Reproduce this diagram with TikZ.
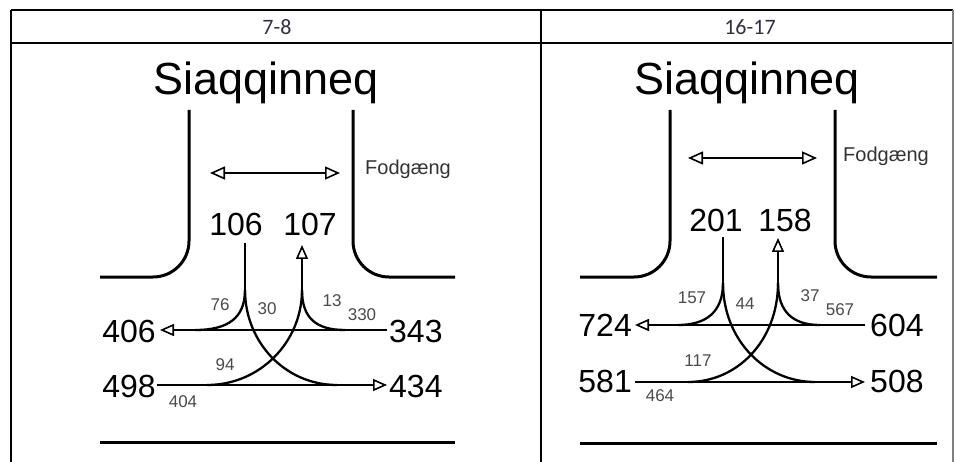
\documentclass[tikz,border=0pt]{standalone}
\usepackage{fontspec}
\setmainfont{Liberation Sans}
\newfontfamily\hdrfont{Carlito}
\usetikzlibrary{arrows.meta}

\definecolor{hdrtext}{HTML}{303040}
\definecolor{smalltext}{HTML}{4A4A4A}
\newcommand{\setfs}[1]{\fontsize{#1}{#1}\selectfont}

\begin{document}
\begin{tikzpicture}[x=1pt, y=-1pt, inner sep=0pt,
  tbl/.style={line width=2.8pt},
  road/.style={line width=3pt, rounded corners=36pt},
  flow/.style={line width=2.3pt},
  openhead/.style={-{Triangle[open, length=14pt, width=12pt, line width=1.6pt]}},
  pedarrow/.style={line width=2.3pt, {Triangle[open, length=15pt, width=13pt, line width=1.6pt]}-{Triangle[open, length=15pt, width=13pt, line width=1.6pt]}},
  title/.style={font=\setfs{45}, anchor=base},
  hdr/.style={font=\hdrfont\setfs{22}, text=hdrtext},
  big/.style={font=\setfs{32}},
  small/.style={font=\setfs{17}, text=smalltext},
  walk/.style={font=\setfs{20}, text=black!80, anchor=base west}]

  \useasboundingbox (0,0) rectangle (955,462);

  % Table frame
  \draw[tbl] (11,10) -- (953,10);
  \draw[tbl] (11,43) -- (953,43);
  \draw[tbl] (11,10) -- (11,470);
  \draw[tbl] (541,10) -- (541,470);
  \draw[line width=1.2pt, black!50] (953,10) -- (953,470);
  \node[hdr] (hdrA) at (277,27) {7-8};
  \node[hdr] (hdrB) at (750,27) {16-17};

  % ---------------- 7-8 ----------------
  \node[title] (titleA) at (266,95) {Siaqqinneq};
  % curbs
  \draw[road] (189,110) -- (189,277) -- (100,277);
  \draw[road] (353,110) -- (353,277) -- (455,277);
  \draw[line width=3pt] (100,442) -- (455,442);
  % pedestrians
  \coordinate (pedAl) at (210,173);
  \coordinate (pedAr) at (340,173);
  \draw[pedarrow] (pedAl) -- (pedAr);
  \node[walk] (walkA) at (365,175) {Fodgæng};

  % counts
  \node[big, anchor=base] (inA) at (236,236) {106};
  \node[big, anchor=base] (outA) at (310,236) {107};
  \node[big, anchor=base east] (wOutA) at (156,342) {406};
  \node[big, anchor=base west] (eInA) at (389,342) {343};
  \node[big, anchor=base east] (wInA) at (156,397) {498};
  \node[big, anchor=base west] (eOutA) at (389,397) {434};

  % flows
  \coordinate (dTopA) at (245,243);
  \coordinate (dJA) at (245,290);
  \coordinate (uTipA) at (302,245);
  \coordinate (uJA) at (302,290);
  \draw[flow, openhead] (387,330) -- (160,330);
  \draw[flow, openhead] (157,385) -- (387,385);
  \draw[flow] (dTopA) -- (dJA);
  \draw[flow, openhead] (uJA) -- (uTipA);
  \draw[flow] (dJA) .. controls (245,318) and (228,330) .. (195,330);
  \draw[flow] (dJA) .. controls (245,342) and (285,385) .. (337,385);
  \draw[flow] (uJA) .. controls (302,318) and (316,330) .. (345,330);
  \draw[flow] (uJA) .. controls (302,342) and (260,385) .. (207,385);

  \node[small] (tA1) at (220,305) {76};
  \node[small] (tA2) at (267,309) {30};
  \node[small] (tA3) at (332,301) {13};
  \node[small] (tA4) at (362,315) {330};
  \node[small] (tA5) at (225,365) {94};
  \node[small] (tA6) at (183,402) {404};

  % ---------------- 16-17 ----------------
  \node[title] (titleB) at (747,95) {Siaqqinneq};
  % curbs
  \draw[road] (670,110) -- (670,277) -- (580,277);
  \draw[road] (835,110) -- (835,277) -- (937,277);
  \draw[line width=3pt] (580,443) -- (937,443);
  % pedestrians
  \coordinate (pedBl) at (688,158);
  \coordinate (pedBr) at (817,158);
  \draw[pedarrow] (pedBl) -- (pedBr);
  \node[walk] (walkB) at (843,162) {Fodgæng};

  % counts
  \node[big, anchor=base] (inB) at (716,232) {201};
  \node[big, anchor=base] (outB) at (785,232) {158};
  \node[big, anchor=base east] (wOutB) at (632,336) {724};
  \node[big, anchor=base west] (eInB) at (870,336) {604};
  \node[big, anchor=base east] (wInB) at (632,392) {581};
  \node[big, anchor=base west] (eOutB) at (870,392) {508};

  % flows
  \coordinate (dTopB) at (723,237);
  \coordinate (dJB) at (723,283);
  \coordinate (uTipB) at (778,238);
  \coordinate (uJB) at (778,283);
  \draw[flow, openhead] (865,325) -- (635,325);
  \draw[flow, openhead] (635,382) -- (865,382);
  \draw[flow] (dTopB) -- (dJB);
  \draw[flow, openhead] (uJB) -- (uTipB);
  \draw[flow] (dJB) .. controls (723,312) and (706,325) .. (678,325);
  \draw[flow] (dJB) .. controls (723,340) and (765,382) .. (815,382);
  \draw[flow] (uJB) .. controls (778,312) and (793,325) .. (820,325);
  \draw[flow] (uJB) .. controls (778,340) and (738,382) .. (688,382);

  \node[small] (tB1) at (692,298) {157};
  \node[small] (tB2) at (745,304) {44};
  \node[small] (tB3) at (810,296) {37};
  \node[small] (tB4) at (840,310) {567};
  \node[small] (tB5) at (698,361) {117};
  \node[small] (tB6) at (660,396) {464};
\end{tikzpicture}
\end{document}
